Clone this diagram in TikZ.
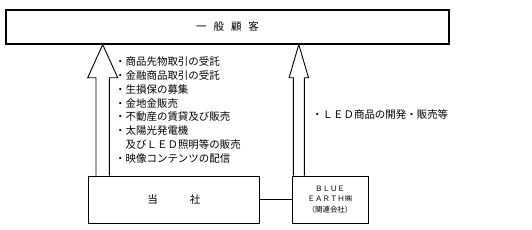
\documentclass[tikz,border=0pt]{standalone}
\usepackage{fontspec}
\newfontfamily\jp{Noto Sans CJK JP}
\usetikzlibrary{calc}
\begin{document}
\begin{tikzpicture}[x=1bp,y=-1bp,
  box/.style={draw, line width=0.9bp, inner sep=0pt, font=\jp\fontsize{10.5}{13}\selectfont},
  bigarrow/.style={draw, fill=white, line width=0.9bp, line join=miter},
  txt/.style={inner sep=0pt, font=\jp\fontsize{10.5}{13.9}\selectfont, align=left}]
\useasboundingbox (0,0) rectangle (532,229);
\node[box, line width=1.2bp, minimum width=443bp, minimum height=34bp] (cust) at (227.5,27)
  {一\hspace{7bp}般\hspace{7bp}顧\hspace{7bp}客};
\node[box, minimum width=171bp, minimum height=47bp] (comp) at (173.9,199.5)
  {当\hspace{32bp}社};
\node[box, minimum width=76bp, minimum height=47bp, align=center,
  font=\jp\fontsize{7.5}{10.8}\selectfont] (blue) at (330,199.5)
  {ＢＬＵＥ\\ＥＡＲＴＨ㈱\\（関連会社）};
\draw[line width=0.9bp] (comp.east) -- (blue.west);
% left arrow
\coordinate (la) at (102.7,77.7);
\draw[bigarrow] ($(la |- comp.north)+(-6.7,0)$) -- ($(la)+(-6.7,0)$) -- ($(la)+(-15,0)$)
  -- (la |- cust.south) -- ($(la)+(15,0)$) -- ($(la)+(6.7,0)$)
  -- ($(la |- comp.north)+(6.7,0)$);
% right arrow
\coordinate (ra) at (298.8,77.7);
\draw[bigarrow] ($(ra |- blue.north)+(-5.5,0)$) -- ($(ra)+(-5.5,0)$) -- ($(ra)+(-9.7,0)$)
  -- (ra |- cust.south) -- ($(ra)+(9.7,0)$) -- ($(ra)+(5.5,0)$)
  -- ($(ra |- blue.north)+(5.5,0)$);
\node[txt, anchor=north west] (list) at (115,56.5)
  {・商品先物取引の受託\\・金融商品取引の受託\\・生損保の募集\\・金地金販売\\・不動産の賃貸及び販売\\・太陽光発電機\\\hspace{10.5bp}及びＬＥＤ照明等の販売\\・映像コンテンツの配信};
\node[txt, anchor=west] (led) at (312,115) {・ＬＥＤ商品の開発・販売等};
\end{tikzpicture}
\end{document}
